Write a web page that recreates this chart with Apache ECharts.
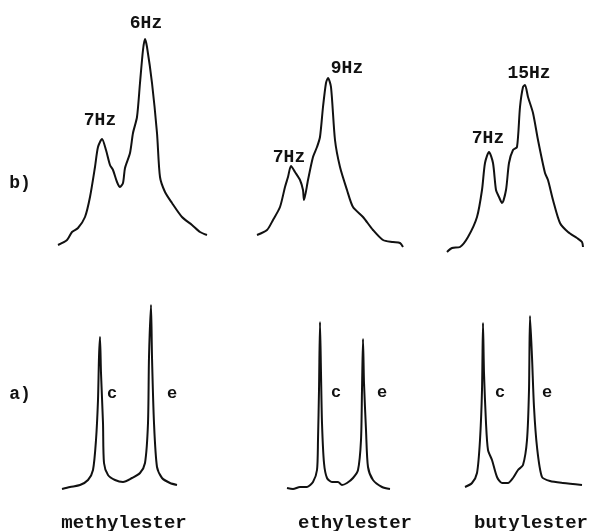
<!DOCTYPE html>
<html><head><meta charset="utf-8">
<script src="https://cdn.jsdelivr.net/npm/echarts@6/dist/echarts.min.js"></script>
<style>html,body{margin:0;padding:0;background:#fff}#c{width:595px;height:531px}</style>
</head><body><div id="c"></div>
<script>
// ---- data (shift, intensity) ----
const esters = ['methylester', 'ethylester', 'butylester'];
const rowLabels = ['a)', 'b)'];
const couplingLabels = [['7Hz', '6Hz'], ['7Hz', '9Hz'], ['7Hz', '15Hz']];
const peakNamesA = ['c', 'e'];

// b) spectra
const bMethyl = [[8,15],[17,20],[22,28],[28,32],[35,43],[40,63],[45,93],[48,113],[52,121],[56,110],[60,95],[63,90],[67,78],[70,73],[73,77],[75,92],[80,107],[83,127],[87,143],[90,177],[93,210],[95,221],[97,213],[102,177],[107,127],[110,83],[115,68],[122,57],[132,43],[142,35],[150,28],[157,25]];
const bMethylPeaks = [8, 21];
const bEthyl = [[7,25],[17,30],[23,40],[30,53],[35,73],[38,83],[41,94],[45,88],[50,80],[53,70],[54,60],[58,80],[63,103],[67,113],[70,123],[73,153],[76,177],[78,182],[81,173],[85,120],[90,93],[97,70],[103,53],[113,43],[123,30],[133,20],[143,18],[150,17],[153,13]];
const bEthylPeaks = [6, 17];
const bButyl = [[7,8],[12,12],[20,13],[28,23],[37,43],[42,70],[45,97],[49,108],[53,97],[56,70],[59,63],[62,57],[66,70],[69,97],[73,110],[77,113],[80,153],[83,173],[85,175],[88,163],[93,147],[98,120],[105,87],[108,80],[113,60],[120,37],[128,28],[137,22],[142,18],[143,13]];
const bButylPeaks = [7, 18];

// a) spectra
const aMethyl = [[12,11],[20,13],[30,15],[38,20],[43,30],[46,60],[48,100],[49,143],[50,163],[51,127],[53,77],[54,37],[58,25],[65,20],[73,18],[82,22],[90,27],[95,37],[98,77],[99,143],[101,195],[102,143],[104,77],[107,33],[112,22],[120,17],[127,15]];
const aMethylPeaks = [8, 20];
const aEthyl = [[7,12],[13,11],[20,13],[27,13],[33,18],[37,30],[38,60],[39,110],[40,178],[41,127],[42,77],[44,37],[47,22],[52,18],[58,18],[62,15],[67,17],[73,22],[78,30],[81,60],[82,110],[83,161],[84,117],[86,70],[88,33],[93,20],[102,13],[110,11]];
const aEthylPeaks = [8, 21];
const aButyl = [[10,13],[17,17],[22,27],[25,60],[27,110],[28,177],[29,127],[31,77],[33,50],[37,40],[42,23],[47,17],[53,17],[58,22],[63,30],[68,35],[72,60],[74,110],[75,184],[77,143],[79,93],[82,53],[87,23],[95,19],[108,17],[127,15]];
const aButylPeaks = [5, 18];

// ---- layout ----
const FONT = '"Liberation Mono", "DejaVu Sans Mono", monospace';
const panels = [
  {data: bMethyl, peaks: bMethylPeaks, labels: couplingLabels[0], box: {left: 50, top: 20, width: 170, height: 240}, offs: [[-2,-19],[1,-16]]},
  {data: bEthyl, peaks: bEthylPeaks, labels: couplingLabels[1], box: {left: 250, top: 20, width: 160, height: 240}, offs: [[-2,-9],[19,-10]]},
  {data: bButyl, peaks: bButylPeaks, labels: couplingLabels[2], box: {left: 440, top: 20, width: 150, height: 240}, offs: [[-1,-14],[4,-12]]},
  {data: aMethyl, peaks: aMethylPeaks, labels: peakNamesA, box: {left: 50, top: 290, width: 140, height: 210}, offs: [[12,57],[21,89]]},
  {data: aEthyl, peaks: aEthylPeaks, labels: peakNamesA, box: {left: 280, top: 290, width: 120, height: 210}, offs: [[16,71],[19,54]]},
  {data: aButyl, peaks: aButylPeaks, labels: peakNamesA, box: {left: 455, top: 290, width: 135, height: 210}, offs: [[17,70],[17,77]]}
];

const grid = [], xAxis = [], yAxis = [], series = [];
panels.forEach((p, i) => {
  grid.push({left: p.box.left, top: p.box.top, width: p.box.width, height: p.box.height, containLabel: false});
  xAxis.push({type: 'value', gridIndex: i, min: 0, max: p.box.width, show: false});
  yAxis.push({type: 'value', gridIndex: i, min: 0, max: p.box.height, show: false});
  series.push({
    type: 'line', xAxisIndex: i, yAxisIndex: i, data: p.data,
    showSymbol: false, symbol: 'none', smooth: 0.25,
    lineStyle: {color: '#111', width: 2}, silent: true,
    markPoint: {
      symbol: 'circle', symbolSize: 0, silent: true,
      label: {show: true, position: 'inside', color: '#111', fontFamily: FONT, fontWeight: 'bold', fontSize: i < 3 ? 18 : 17},
      data: p.peaks.map((idx, k) => ({
        coord: p.data[idx],
        label: {formatter: p.labels[k], offset: p.offs[k]}
      }))
    }
  });
});

const textStyle = (t, x, y) => ({type: 'text', left: x, top: y, style: {text: t, font: 'bold 18px ' + FONT, fill: '#111', textAlign: 'center', textVerticalAlign: 'middle'}});
const graphic = [
  {type: 'text', x: 20, y: 183, style: {text: rowLabels[1], font: 'bold 18px ' + FONT, fill: '#111', align: 'center', verticalAlign: 'middle'}},
  {type: 'text', x: 20, y: 394, style: {text: rowLabels[0], font: 'bold 18px ' + FONT, fill: '#111', align: 'center', verticalAlign: 'middle'}},
  {type: 'text', x: 124, y: 523, style: {text: esters[0], font: 'bold 19px ' + FONT, fill: '#111', align: 'center', verticalAlign: 'middle'}},
  {type: 'text', x: 355, y: 523, style: {text: esters[1], font: 'bold 19px ' + FONT, fill: '#111', align: 'center', verticalAlign: 'middle'}},
  {type: 'text', x: 531, y: 523, style: {text: esters[2], font: 'bold 19px ' + FONT, fill: '#111', align: 'center', verticalAlign: 'middle'}}
];

const chart = echarts.init(document.getElementById('c'), null, {renderer: 'canvas'});
chart.setOption({animation: false, backgroundColor: '#fff', grid, xAxis, yAxis, series, graphic});
</script>
</body></html>
